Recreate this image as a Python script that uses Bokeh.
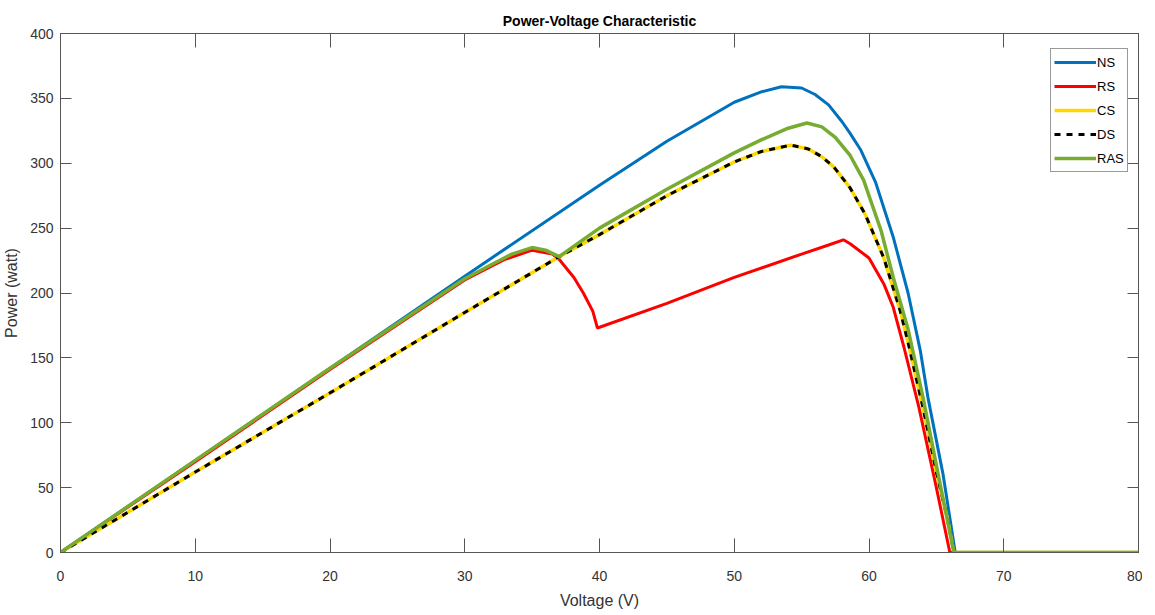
from bokeh.plotting import figure
from bokeh.models import Range1d, LinearAxis, Legend, LegendItem, FixedTicker
from bokeh.embed import file_html
from bokeh.resources import INLINE

FONT = "Liberation Sans"

x_ticks = [0, 10, 20, 30, 40, 50, 60, 70, 80]
y_ticks = [0, 50, 100, 150, 200, 250, 300, 350, 400]

ns_v = [0, 10, 20, 30, 40, 45, 50, 52, 53.5, 55, 56, 57, 58, 58.6, 59.4, 60.5, 61.8, 62.9, 63.8, 64.4, 65.5, 66.4, 80]
ns_p = [0, 71, 142, 213, 283, 317, 347, 355, 359, 358, 353, 345, 332, 323, 310, 285, 243, 200, 156, 118, 60, 0, 0]

rs_v = [0, 10, 20, 30, 33, 35, 36.5, 37, 38.1, 38.8, 39.5, 39.85, 45, 50, 55, 57, 58.1, 58.6, 60.0, 61.1, 61.8, 62.6, 63.7, 65.0, 66.0, 80]
rs_p = [0, 70, 141, 210, 226, 233, 230, 226, 212, 200, 186, 173, 192, 212, 230, 237, 241, 238, 227, 207, 189, 158, 112, 50, 0, 0]

cs_v = [0, 10, 20, 30, 37, 40, 45, 50, 52, 54.2, 55.5, 56.5, 57.4, 58.6, 59.7, 61.1, 62.3, 62.9, 64.0, 65.0, 65.8, 66.3, 80]
cs_p = [0, 62, 123, 185, 228, 245, 275, 301, 309, 314, 311, 305, 297, 281, 261, 227, 187, 162, 112, 62, 27, 0, 0]

ds_v = [0, 10, 20, 30, 37, 40, 45, 50, 52, 54.2, 55.5, 56.5, 57.4, 58.6, 59.7, 61.1, 62.3, 62.9, 64.0, 65.0, 65.8, 66.3, 80]
ds_p = [0, 62, 123, 185, 228, 245, 275, 301, 309, 314, 311, 305, 297, 281, 261, 227, 187, 162, 112, 62, 27, 0, 0]

ras_v = [0, 10, 20, 30, 32, 33.5, 35, 36, 37, 40, 45, 50, 52, 54, 55.4, 56.5, 57.5, 58.6, 59.6, 60.9, 61.8, 62.9, 64.0, 65.1, 66.3, 80]
ras_p = [0, 71, 142, 211, 222, 230, 235, 233, 228, 250, 280, 308, 318, 327, 331, 328, 320, 306, 287, 248, 212, 172, 120, 62, 0, 0]

p = figure(frame_width=1078, frame_height=519, x_range=Range1d(0, 80), y_range=Range1d(0, 400),
           output_backend="svg", toolbar_location=None,
           min_border_left=52, min_border_right=4, min_border_top=33, min_border_bottom=40)

p.title.text = "Power-Voltage Characteristic"
p.title.align = "center"
p.title.text_font = FONT
p.title.text_font_size = "14px"
p.title.text_font_style = "bold"
p.title.text_color = "#000000"
p.title.offset = 0

p.grid.visible = False
p.outline_line_color = "#555555"
p.background_fill_color = "white"
p.border_fill_color = "white"

AX = "#555555"
LAB = "#333333"

xa = p.xaxis[0]
xa.ticker = FixedTicker(ticks=x_ticks)
xa.axis_label = "Voltage (V)"
ya = p.yaxis[0]
ya.ticker = FixedTicker(ticks=y_ticks)
ya.axis_label = "Power (watt)"
for ax, tl in ((xa, 14), (ya, 11)):
    ax.major_tick_in = tl
    ax.major_tick_out = 0
    ax.minor_tick_line_color = None
    ax.axis_line_color = AX
    ax.major_tick_line_color = AX
    ax.major_label_text_font = FONT
    ax.major_label_text_font_size = "14px"
    ax.major_label_text_color = LAB
    ax.axis_label_text_font = FONT
    ax.axis_label_text_font_size = "16px"
    ax.axis_label_text_font_style = "normal"
    ax.axis_label_text_color = LAB
xa.major_label_standoff = 18
xa.axis_label_standoff = 8
ya.major_label_standoff = 7
ya.axis_label_standoff = 7

top = LinearAxis(ticker=FixedTicker(ticks=x_ticks), major_label_overrides={t: "" for t in x_ticks})
right = LinearAxis(ticker=FixedTicker(ticks=y_ticks), major_label_overrides={t: "" for t in y_ticks})
for ax, tl in ((top, 14), (right, 11)):
    ax.major_tick_in = tl
    ax.major_tick_out = 0
    ax.minor_tick_line_color = None
    ax.axis_line_color = AX
    ax.major_tick_line_color = AX
    ax.major_label_standoff = 0
    ax.major_label_text_font_size = "1px"
p.add_layout(top, "above")
p.add_layout(right, "right")

r_ns = p.line(ns_v, ns_p, line_color="#0072BD", line_width=3)
r_rs = p.line(rs_v, rs_p, line_color="#FF0000", line_width=3)
r_cs = p.line(cs_v, cs_p, line_color="#FFD700", line_width=3.5)
r_ds = p.line(ds_v, ds_p, line_color="#000000", line_width=3, line_dash="6 6")
r_ras = p.line(ras_v, ras_p, line_color="#77AC30", line_width=3.5)

legend = Legend(items=[
    LegendItem(label="NS", renderers=[r_ns]),
    LegendItem(label="RS", renderers=[r_rs]),
    LegendItem(label="CS", renderers=[r_cs]),
    LegendItem(label="DS", renderers=[r_ds]),
    LegendItem(label="RAS", renderers=[r_ras]),
], location=(990, 380))
legend.border_line_color = "#333333"
legend.border_line_width = 1
legend.background_fill_color = "white"
legend.background_fill_alpha = 1
legend.label_text_font = FONT
legend.label_text_font_size = "13px"
legend.label_text_color = "#000000"
legend.glyph_width = 42
legend.glyph_height = 20
legend.label_height = 20
legend.label_standoff = 1
legend.spacing = 4
legend.padding = 3
legend.margin = 0
p.add_layout(legend, "center")

open("out.html", "w").write(file_html(p, INLINE))
